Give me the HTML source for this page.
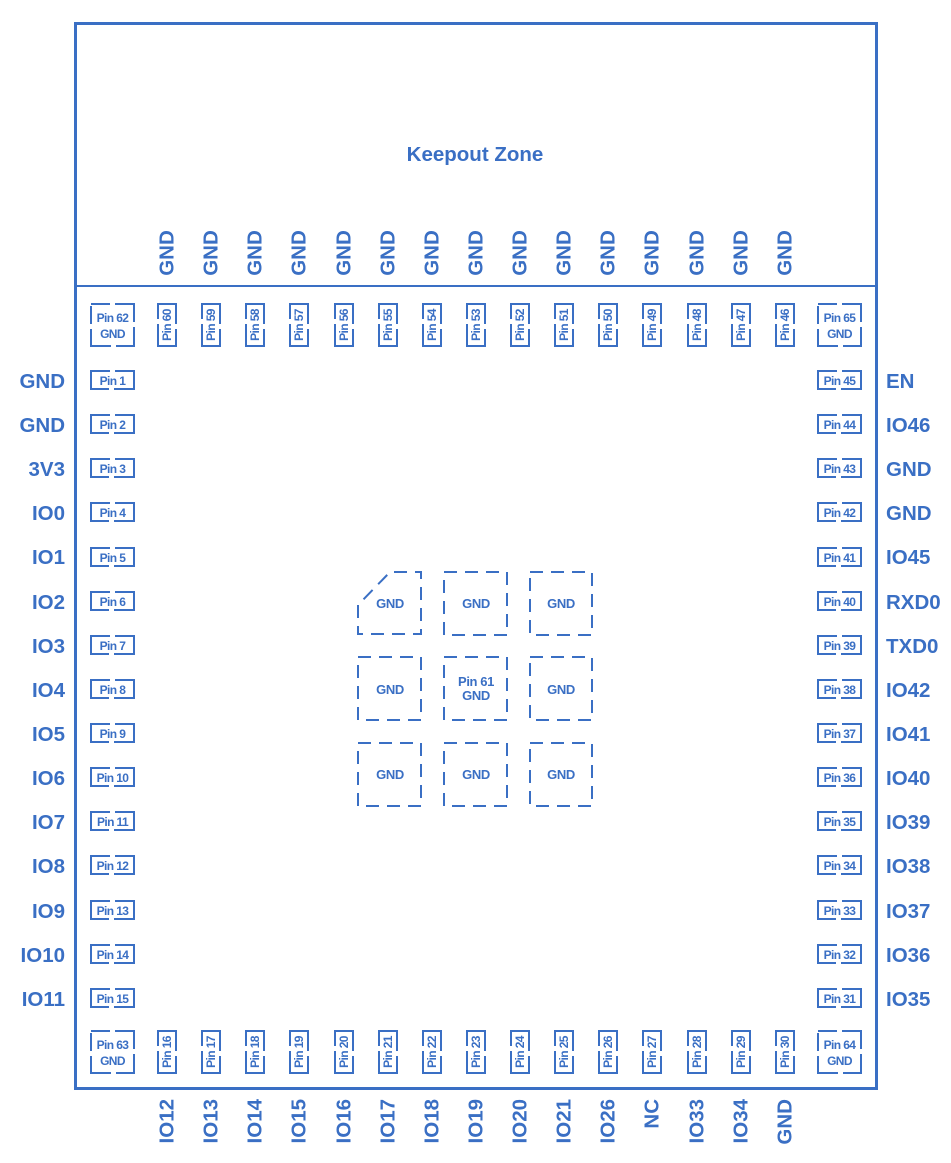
<!DOCTYPE html>
<html><head><meta charset="utf-8"><style>
html,body{margin:0;padding:0;background:#fff}
svg{display:block}
text{font-family:"Liberation Sans",Arial,sans-serif;font-weight:bold;fill:#3a6fc4}
.l{font-size:20.5px}
.p{font-size:12px;letter-spacing:-0.6px}
.ph{fill:none;stroke:#3a6fc4;stroke-width:2;stroke-dasharray:19 5 57 5 38 0}
.pv{fill:none;stroke:#3a6fc4;stroke-width:2;stroke-dasharray:38 5 57 5 19 0}
.pc{fill:none;stroke:#3a6fc4;stroke-width:2;stroke-dasharray:19 5 37 5 37 5 37 5 18}
.ep{fill:none;stroke:#3a6fc4;stroke-width:2;stroke-dasharray:13 8}
.g{font-size:13px;letter-spacing:-0.4px}
</style></head><body>
<svg width="951" height="1163" viewBox="0 0 951 1163" xmlns="http://www.w3.org/2000/svg">
<rect x="75.5" y="23.5" width="801" height="1065" fill="none" stroke="#3a6fc4" stroke-width="3"/>
<line x1="75" y1="286" x2="876" y2="286" stroke="#3a6fc4" stroke-width="2"/>
<text x="475" y="161" class="l" text-anchor="middle">Keepout Zone</text>

<!-- corner pads -->
<rect class="pc" x="91" y="304" width="43" height="42"/>
<text class="p" x="112.5" y="322" text-anchor="middle">Pin 62</text><text class="p" x="112.5" y="338" text-anchor="middle">GND</text>
<rect class="pc" x="818" y="304" width="43" height="42"/>
<text class="p" x="839.5" y="322" text-anchor="middle">Pin 65</text><text class="p" x="839.5" y="338" text-anchor="middle">GND</text>
<rect class="pc" x="91" y="1031" width="43" height="42"/>
<text class="p" x="112.5" y="1049" text-anchor="middle">Pin 63</text><text class="p" x="112.5" y="1065" text-anchor="middle">GND</text>
<rect class="pc" x="818" y="1031" width="43" height="42"/>
<text class="p" x="839.5" y="1049" text-anchor="middle">Pin 64</text><text class="p" x="839.5" y="1065" text-anchor="middle">GND</text>

<!-- left pads -->
<g text-anchor="middle">
<rect class="ph" x="91" y="371" width="43" height="18"/><text class="p" x="112.5" y="385">Pin 1</text>
<rect class="ph" x="91" y="415" width="43" height="18"/><text class="p" x="112.5" y="429">Pin 2</text>
<rect class="ph" x="91" y="459" width="43" height="18"/><text class="p" x="112.5" y="473">Pin 3</text>
<rect class="ph" x="91" y="503" width="43" height="18"/><text class="p" x="112.5" y="517">Pin 4</text>
<rect class="ph" x="91" y="548" width="43" height="18"/><text class="p" x="112.5" y="562">Pin 5</text>
<rect class="ph" x="91" y="592" width="43" height="18"/><text class="p" x="112.5" y="606">Pin 6</text>
<rect class="ph" x="91" y="636" width="43" height="18"/><text class="p" x="112.5" y="650">Pin 7</text>
<rect class="ph" x="91" y="680" width="43" height="18"/><text class="p" x="112.5" y="694">Pin 8</text>
<rect class="ph" x="91" y="724" width="43" height="18"/><text class="p" x="112.5" y="738">Pin 9</text>
<rect class="ph" x="91" y="768" width="43" height="18"/><text class="p" x="112.5" y="782">Pin 10</text>
<rect class="ph" x="91" y="812" width="43" height="18"/><text class="p" x="112.5" y="826">Pin 11</text>
<rect class="ph" x="91" y="856" width="43" height="18"/><text class="p" x="112.5" y="870">Pin 12</text>
<rect class="ph" x="91" y="901" width="43" height="18"/><text class="p" x="112.5" y="915">Pin 13</text>
<rect class="ph" x="91" y="945" width="43" height="18"/><text class="p" x="112.5" y="959">Pin 14</text>
<rect class="ph" x="91" y="989" width="43" height="18"/><text class="p" x="112.5" y="1003">Pin 15</text>
</g>
<g text-anchor="end">
<text class="l" x="65" y="388">GND</text>
<text class="l" x="65" y="432">GND</text>
<text class="l" x="65" y="476">3V3</text>
<text class="l" x="65" y="520">IO0</text>
<text class="l" x="65" y="564">IO1</text>
<text class="l" x="65" y="609">IO2</text>
<text class="l" x="65" y="653">IO3</text>
<text class="l" x="65" y="697">IO4</text>
<text class="l" x="65" y="741">IO5</text>
<text class="l" x="65" y="785">IO6</text>
<text class="l" x="65" y="829">IO7</text>
<text class="l" x="65" y="873">IO8</text>
<text class="l" x="65" y="918">IO9</text>
<text class="l" x="65" y="962">IO10</text>
<text class="l" x="65" y="1006">IO11</text>
</g>

<!-- right pads -->
<g text-anchor="middle">
<rect class="ph" x="818" y="371" width="43" height="18"/><text class="p" x="839.5" y="385">Pin 45</text>
<rect class="ph" x="818" y="415" width="43" height="18"/><text class="p" x="839.5" y="429">Pin 44</text>
<rect class="ph" x="818" y="459" width="43" height="18"/><text class="p" x="839.5" y="473">Pin 43</text>
<rect class="ph" x="818" y="503" width="43" height="18"/><text class="p" x="839.5" y="517">Pin 42</text>
<rect class="ph" x="818" y="548" width="43" height="18"/><text class="p" x="839.5" y="562">Pin 41</text>
<rect class="ph" x="818" y="592" width="43" height="18"/><text class="p" x="839.5" y="606">Pin 40</text>
<rect class="ph" x="818" y="636" width="43" height="18"/><text class="p" x="839.5" y="650">Pin 39</text>
<rect class="ph" x="818" y="680" width="43" height="18"/><text class="p" x="839.5" y="694">Pin 38</text>
<rect class="ph" x="818" y="724" width="43" height="18"/><text class="p" x="839.5" y="738">Pin 37</text>
<rect class="ph" x="818" y="768" width="43" height="18"/><text class="p" x="839.5" y="782">Pin 36</text>
<rect class="ph" x="818" y="812" width="43" height="18"/><text class="p" x="839.5" y="826">Pin 35</text>
<rect class="ph" x="818" y="856" width="43" height="18"/><text class="p" x="839.5" y="870">Pin 34</text>
<rect class="ph" x="818" y="901" width="43" height="18"/><text class="p" x="839.5" y="915">Pin 33</text>
<rect class="ph" x="818" y="945" width="43" height="18"/><text class="p" x="839.5" y="959">Pin 32</text>
<rect class="ph" x="818" y="989" width="43" height="18"/><text class="p" x="839.5" y="1003">Pin 31</text>
</g>
<g>
<text class="l" x="886" y="388">EN</text>
<text class="l" x="886" y="432">IO46</text>
<text class="l" x="886" y="476">GND</text>
<text class="l" x="886" y="520">GND</text>
<text class="l" x="886" y="564">IO45</text>
<text class="l" x="886" y="609">RXD0</text>
<text class="l" x="886" y="653">TXD0</text>
<text class="l" x="886" y="697">IO42</text>
<text class="l" x="886" y="741">IO41</text>
<text class="l" x="886" y="785">IO40</text>
<text class="l" x="886" y="829">IO39</text>
<text class="l" x="886" y="873">IO38</text>
<text class="l" x="886" y="918">IO37</text>
<text class="l" x="886" y="962">IO36</text>
<text class="l" x="886" y="1006">IO35</text>
</g>

<!-- top pads -->
<g text-anchor="middle" dominant-baseline="central">
<rect class="pv" x="158" y="304" width="18" height="42"/><text class="p" transform="translate(167,325) rotate(-90)">Pin 60</text>
<rect class="pv" x="202" y="304" width="18" height="42"/><text class="p" transform="translate(211,325) rotate(-90)">Pin 59</text>
<rect class="pv" x="246" y="304" width="18" height="42"/><text class="p" transform="translate(255,325) rotate(-90)">Pin 58</text>
<rect class="pv" x="290" y="304" width="18" height="42"/><text class="p" transform="translate(299,325) rotate(-90)">Pin 57</text>
<rect class="pv" x="335" y="304" width="18" height="42"/><text class="p" transform="translate(344,325) rotate(-90)">Pin 56</text>
<rect class="pv" x="379" y="304" width="18" height="42"/><text class="p" transform="translate(388,325) rotate(-90)">Pin 55</text>
<rect class="pv" x="423" y="304" width="18" height="42"/><text class="p" transform="translate(432,325) rotate(-90)">Pin 54</text>
<rect class="pv" x="467" y="304" width="18" height="42"/><text class="p" transform="translate(476,325) rotate(-90)">Pin 53</text>
<rect class="pv" x="511" y="304" width="18" height="42"/><text class="p" transform="translate(520,325) rotate(-90)">Pin 52</text>
<rect class="pv" x="555" y="304" width="18" height="42"/><text class="p" transform="translate(564,325) rotate(-90)">Pin 51</text>
<rect class="pv" x="599" y="304" width="18" height="42"/><text class="p" transform="translate(608,325) rotate(-90)">Pin 50</text>
<rect class="pv" x="643" y="304" width="18" height="42"/><text class="p" transform="translate(652,325) rotate(-90)">Pin 49</text>
<rect class="pv" x="688" y="304" width="18" height="42"/><text class="p" transform="translate(697,325) rotate(-90)">Pin 48</text>
<rect class="pv" x="732" y="304" width="18" height="42"/><text class="p" transform="translate(741,325) rotate(-90)">Pin 47</text>
<rect class="pv" x="776" y="304" width="18" height="42"/><text class="p" transform="translate(785,325) rotate(-90)">Pin 46</text>
</g>
<g text-anchor="middle" dominant-baseline="central">
<text class="l" transform="translate(167,253) rotate(-90)">GND</text>
<text class="l" transform="translate(211,253) rotate(-90)">GND</text>
<text class="l" transform="translate(255,253) rotate(-90)">GND</text>
<text class="l" transform="translate(299,253) rotate(-90)">GND</text>
<text class="l" transform="translate(344,253) rotate(-90)">GND</text>
<text class="l" transform="translate(388,253) rotate(-90)">GND</text>
<text class="l" transform="translate(432,253) rotate(-90)">GND</text>
<text class="l" transform="translate(476,253) rotate(-90)">GND</text>
<text class="l" transform="translate(520,253) rotate(-90)">GND</text>
<text class="l" transform="translate(564,253) rotate(-90)">GND</text>
<text class="l" transform="translate(608,253) rotate(-90)">GND</text>
<text class="l" transform="translate(652,253) rotate(-90)">GND</text>
<text class="l" transform="translate(697,253) rotate(-90)">GND</text>
<text class="l" transform="translate(741,253) rotate(-90)">GND</text>
<text class="l" transform="translate(785,253) rotate(-90)">GND</text>
</g>

<!-- bottom pads -->
<g text-anchor="middle" dominant-baseline="central">
<rect class="pv" x="158" y="1031" width="18" height="42"/><text class="p" transform="translate(167,1052) rotate(-90)">Pin 16</text>
<rect class="pv" x="202" y="1031" width="18" height="42"/><text class="p" transform="translate(211,1052) rotate(-90)">Pin 17</text>
<rect class="pv" x="246" y="1031" width="18" height="42"/><text class="p" transform="translate(255,1052) rotate(-90)">Pin 18</text>
<rect class="pv" x="290" y="1031" width="18" height="42"/><text class="p" transform="translate(299,1052) rotate(-90)">Pin 19</text>
<rect class="pv" x="335" y="1031" width="18" height="42"/><text class="p" transform="translate(344,1052) rotate(-90)">Pin 20</text>
<rect class="pv" x="379" y="1031" width="18" height="42"/><text class="p" transform="translate(388,1052) rotate(-90)">Pin 21</text>
<rect class="pv" x="423" y="1031" width="18" height="42"/><text class="p" transform="translate(432,1052) rotate(-90)">Pin 22</text>
<rect class="pv" x="467" y="1031" width="18" height="42"/><text class="p" transform="translate(476,1052) rotate(-90)">Pin 23</text>
<rect class="pv" x="511" y="1031" width="18" height="42"/><text class="p" transform="translate(520,1052) rotate(-90)">Pin 24</text>
<rect class="pv" x="555" y="1031" width="18" height="42"/><text class="p" transform="translate(564,1052) rotate(-90)">Pin 25</text>
<rect class="pv" x="599" y="1031" width="18" height="42"/><text class="p" transform="translate(608,1052) rotate(-90)">Pin 26</text>
<rect class="pv" x="643" y="1031" width="18" height="42"/><text class="p" transform="translate(652,1052) rotate(-90)">Pin 27</text>
<rect class="pv" x="688" y="1031" width="18" height="42"/><text class="p" transform="translate(697,1052) rotate(-90)">Pin 28</text>
<rect class="pv" x="732" y="1031" width="18" height="42"/><text class="p" transform="translate(741,1052) rotate(-90)">Pin 29</text>
<rect class="pv" x="776" y="1031" width="18" height="42"/><text class="p" transform="translate(785,1052) rotate(-90)">Pin 30</text>
</g>
<g text-anchor="end" dominant-baseline="central">
<text class="l" transform="translate(167,1099) rotate(-90)">IO12</text>
<text class="l" transform="translate(211,1099) rotate(-90)">IO13</text>
<text class="l" transform="translate(255,1099) rotate(-90)">IO14</text>
<text class="l" transform="translate(299,1099) rotate(-90)">IO15</text>
<text class="l" transform="translate(344,1099) rotate(-90)">IO16</text>
<text class="l" transform="translate(388,1099) rotate(-90)">IO17</text>
<text class="l" transform="translate(432,1099) rotate(-90)">IO18</text>
<text class="l" transform="translate(476,1099) rotate(-90)">IO19</text>
<text class="l" transform="translate(520,1099) rotate(-90)">IO20</text>
<text class="l" transform="translate(564,1099) rotate(-90)">IO21</text>
<text class="l" transform="translate(608,1099) rotate(-90)">IO26</text>
<text class="l" transform="translate(652,1099) rotate(-90)">NC</text>
<text class="l" transform="translate(697,1099) rotate(-90)">IO33</text>
<text class="l" transform="translate(741,1099) rotate(-90)">IO34</text>
<text class="l" transform="translate(785,1099) rotate(-90)">GND</text>
</g>

<!-- exposed pads -->
<path class="ep" d="M358,605 L358,634 L421,634 L421,572 L390,572 Z"/>
<rect class="ep" x="444" y="572" width="63" height="63"/>
<rect class="ep" x="530" y="572" width="62" height="63"/>
<rect class="ep" x="358" y="657" width="63" height="63"/>
<rect class="ep" x="444" y="657" width="63" height="63"/>
<rect class="ep" x="530" y="657" width="62" height="63"/>
<rect class="ep" x="358" y="743" width="63" height="63"/>
<rect class="ep" x="444" y="743" width="63" height="63"/>
<rect class="ep" x="530" y="743" width="62" height="63"/>
<g text-anchor="middle">
<text class="g" x="390" y="608">GND</text>
<text class="g" x="476" y="608">GND</text>
<text class="g" x="561" y="608">GND</text>
<text class="g" x="390" y="694">GND</text>
<text class="g" x="476" y="686">Pin 61</text>
<text class="g" x="476" y="700">GND</text>
<text class="g" x="561" y="694">GND</text>
<text class="g" x="390" y="779">GND</text>
<text class="g" x="476" y="779">GND</text>
<text class="g" x="561" y="779">GND</text>
</g>
</svg>
</body></html>
